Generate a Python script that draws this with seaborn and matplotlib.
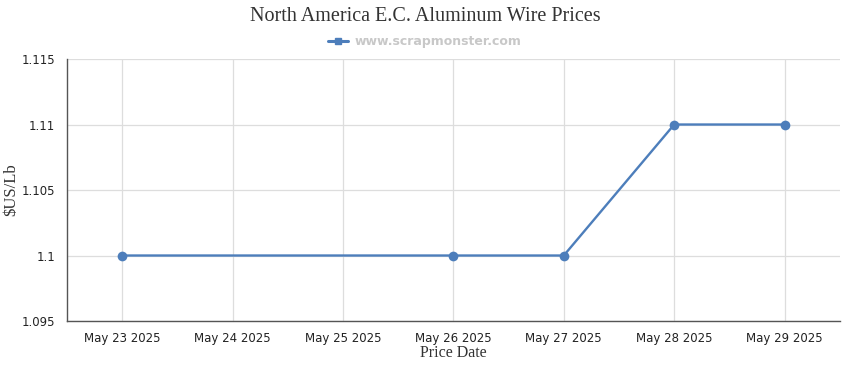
import matplotlib
matplotlib.use("Agg")
import matplotlib.pyplot as plt
import matplotlib.dates as mdates
from matplotlib.ticker import FuncFormatter, MultipleLocator
from matplotlib.lines import Line2D
import pandas as pd
import seaborn as sns

# data
dates = ["2025-05-23", "2025-05-26", "2025-05-27", "2025-05-28", "2025-05-29"]
prices = [1.10, 1.10, 1.10, 1.11, 1.11]
tick_dates = pd.date_range("2025-05-23", "2025-05-29", freq="D")

df = pd.DataFrame({"date": pd.to_datetime(dates), "price": prices})

sns.set_style("white")
plt.rcParams["font.family"] = ["DejaVu Sans"]

line_color = "#4d7ebb"
axis_color = "#555555"

fig = plt.figure(figsize=(8.5, 3.7), dpi=100)
ax = fig.add_axes([0.0788, 0.1324, 0.9092, 0.7081])

sns.lineplot(data=df, x="date", y="price", ax=ax, color=line_color,
             linewidth=1.7, marker="o", markersize=7, markeredgewidth=0)

ax.set_xlim(tick_dates[0] - pd.Timedelta(hours=12), tick_dates[-1] + pd.Timedelta(hours=12))
ax.set_ylim(1.095, 1.115)
ax.yaxis.set_major_locator(MultipleLocator(0.005))
ax.yaxis.set_major_formatter(FuncFormatter(lambda v, _: f"{round(v, 3):g}"))
ax.set_xticks(tick_dates)
ax.xaxis.set_major_formatter(mdates.DateFormatter("%b %d %Y"))

ax.grid(True, color="#dddddd", linewidth=0.9)
ax.set_axisbelow(True)
for side in ["top", "right"]:
    ax.spines[side].set_visible(False)
for side in ["left", "bottom"]:
    ax.spines[side].set_color(axis_color)
    ax.spines[side].set_linewidth(1.0)

ax.tick_params(axis="both", colors=axis_color, labelcolor="#222222",
               labelsize=8.5, length=5, width=1, direction="out")
ax.tick_params(axis="x", pad=3)

serif = ["Liberation Serif", "DejaVu Serif"]
ax.set_xlabel("Price Date", family=serif, fontsize=11.5, color="#333333", labelpad=0)
ax.set_ylabel("\\$US/Lb", family=serif, fontsize=12, color="#333333", labelpad=2)

fig.text(0.5, 0.955, "North America E.C. Aluminum Wire Prices", family=serif,
         fontsize=14.5, color="#333333", ha="center", va="center")

handle = Line2D([], [], color=line_color, linewidth=2.2, marker="s", markersize=5)
leg = fig.legend([handle], ["www.scrapmonster.com"], loc="center",
                 bbox_to_anchor=(0.5, 0.888), frameon=False, handlelength=1.6,
                 handletextpad=0.5, prop={"size": 9, "weight": "bold"})
for t in leg.get_texts():
    t.set_color("#c8c8c8")

fig.savefig("out.png", dpi=100)
